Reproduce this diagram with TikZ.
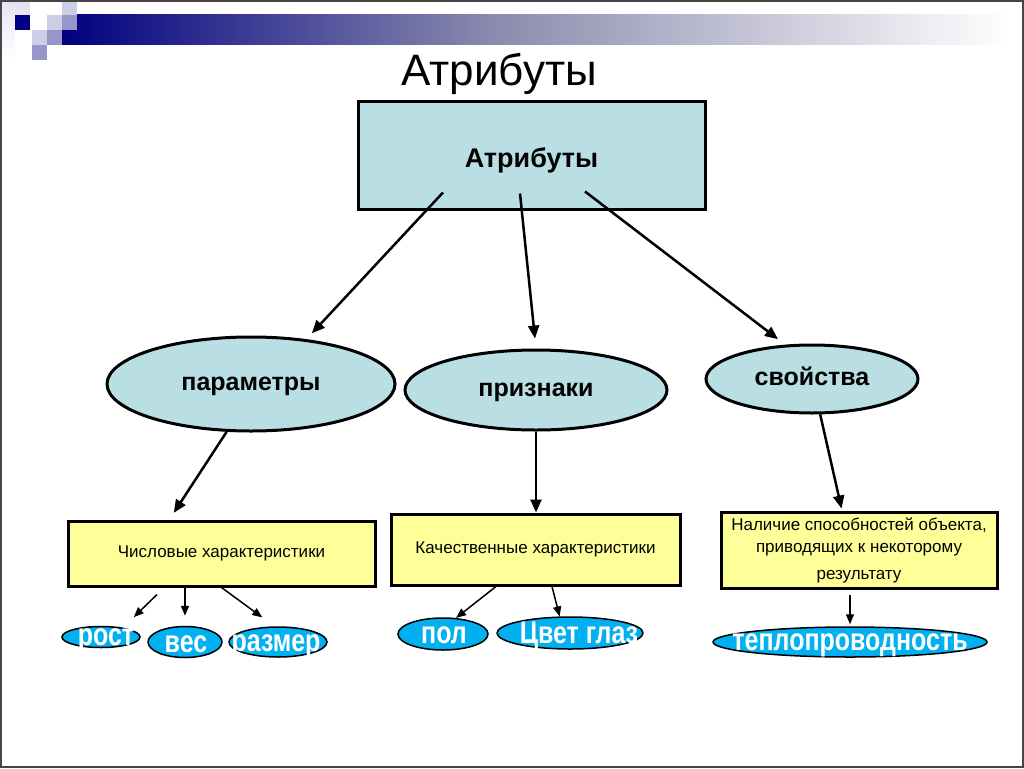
\documentclass[tikz,border=0pt]{standalone}
\usepackage{fontspec}
\setmainfont{Liberation Sans}
\usetikzlibrary{shapes.geometric,arrows.meta,calc}
\definecolor{navy}{RGB}{0,0,128}
\definecolor{lblue}{RGB}{185,222,227}
\definecolor{lyel}{RGB}{255,255,153}
\definecolor{cyanfill}{RGB}{0,176,240}
\definecolor{lav0}{RGB}{228,228,242}
\definecolor{lav1}{RGB}{205,205,230}
\definecolor{lav2}{RGB}{150,150,200}
\definecolor{barmid}{RGB}{140,140,175}
\definecolor{frameclr}{RGB}{70,70,70}
\begin{document}
\begin{tikzpicture}[x=1pt,y=-1pt,
  topbox/.style={draw=black,line width=3pt,fill=lblue,minimum width=347pt,minimum height=108pt,inner sep=0pt,
    font=\fontsize{27}{30}\selectfont\bfseries,text height=24pt,text depth=0pt},
  bigell/.style={ellipse,draw=black,line width=3pt,fill=lblue,inner sep=0pt,
    font=\fontsize{25}{28}\selectfont\bfseries,text height=13pt,text depth=0pt},
  ybox/.style={draw=black,line width=3pt,fill=lyel,inner sep=0pt,align=center,
    font=\fontsize{17}{22}\selectfont},
  smell/.style={ellipse,draw=black,line width=1.5pt,fill=cyanfill,inner sep=0pt},
  wlbl/.style={text=white,inner sep=0pt,anchor=base,font=\fontsize{25}{28}\selectfont\bfseries},
  bigarr/.style={line width=2.5pt,-{Triangle[length=13pt,width=11pt]}},
  smarr/.style={line width=1.5pt,-{Triangle[length=10pt,width=8pt]}},
]
\useasboundingbox (0,0) rectangle (1024,768);
\fill[white] (0,0) rectangle (1024,768);
% decoration
\shade[top color=lav0,bottom color=white] (0,0) rectangle (15,60);
\fill[lav0] (15,0) rectangle (30,15);
\shade[left color=navy,right color=barmid] (62,15) rectangle (500,45);
\shade[left color=barmid,right color=white] (500,15) rectangle (1010,45);
\fill[navy] (15,15) rectangle (30,30);
\fill[lav1] (62,0) rectangle (77,15);
\fill[lav2] (62,15) rectangle (77,30);
\fill[lav1] (47,15) rectangle (62,30);
\fill[lav1] (32,30) rectangle (47,45);
\fill[lav2] (47,30) rectangle (62,45);
\fill[lav2] (32,45) rectangle (47,60);
\draw[frameclr,line width=2pt] (1,1) rectangle (1023,767);

% title
\node[anchor=base,inner sep=0pt,font=\fontsize{44}{50}\selectfont] (title) at (499,85) {Атрибуты};

% nodes
\node[topbox] (top) at (531.5,155) {Атрибуты};
\node[bigell,minimum width=288pt,minimum height=94pt] (par) at (251,384) {параметры};
\node[bigell,minimum width=262pt,minimum height=80pt] (pri) at (536,390) {признаки};
\node[bigell,minimum width=212pt,minimum height=68pt] (svo) at (812,379) {свойства};

\node[ybox,minimum width=307pt,minimum height=65pt] (b1) at (221.5,553.5) {Числовые характеристики};
\node[ybox,minimum width=289pt,minimum height=71pt] (b2) at (535.5,549.5) {Качественные характеристики};
\node[ybox,minimum width=276pt,minimum height=76pt] (b3) at (859,550) {Наличие способностей объекта,\\приводящих к некоторому\\[5pt]результату};

\node[smell,minimum width=78pt,minimum height=21pt] (rost) at (101,637) {};
\node[smell,minimum width=74pt,minimum height=31pt] (ves) at (185,642) {};
\node[smell,minimum width=98pt,minimum height=30pt] (raz) at (278,642) {};
\node[smell,minimum width=90pt,minimum height=32pt] (pol) at (443,634) {};
\node[smell,minimum width=146pt,minimum height=32pt] (cvet) at (570,633) {};
\node[smell,minimum width=274pt,minimum height=30pt] (tep) at (850,642) {};

\node[wlbl] (rostT) at (106,645) {\scalebox{1}[1.25]{рост}};
\node[wlbl] (vesT) at (186,652) {\scalebox{1}[1.25]{вес}};
\node[wlbl] (razT) at (276,651) {\scalebox{1}[1.25]{размер}};
\node[wlbl] (polT) at (444,643) {\scalebox{1}[1.25]{пол}};
\node[wlbl] (cvetT) at (579,643) {\scalebox{1}[1.25]{Цвет глаз}};
\node[wlbl] (tepT) at (850,650) {\scalebox{1}[1.25]{теплопроводность}};

% connectors
\draw[bigarr,shorten >=8pt] ([shift={(-88.5,-18)}]top.south) -- (par.39);
\draw[bigarr,shorten >=10pt] ([shift={(-11.5,-17)}]top.south) -- (pri.north);
\draw[bigarr,shorten >=9pt] ([shift={(53.5,-19)}]top.south) -- (svo.128);

\draw[bigarr,shorten >=8pt] (par.243) -- ($(b1.north west)!0.332!(b1.north east)$);
\draw[bigarr] (pri.south) -- (pri.south |- b2.north);
\draw[bigarr,shorten >=2pt] (svo.283) -- ([xshift=-17pt]b3.north);

\draw[smarr,shorten >=15pt] ([shift={(-64.5,7)}]b1.south) -- (rost.23);
\draw[smarr,shorten >=10pt] (b1.south -| ves.north) -- (ves.north);
\draw[smarr,shorten >=15pt] (b1.south) -- (raz.103);
\draw[smarr] ([xshift=-39.5pt]b2.south) -- (pol.51);
\draw[smarr] ([xshift=16.5pt]b2.south) -- (cvet.122);
\draw[smarr,shorten >=2pt] ($(b3.south -| tep.north)+(0,5)$) -- (tep.north);
\end{tikzpicture}
\end{document}
